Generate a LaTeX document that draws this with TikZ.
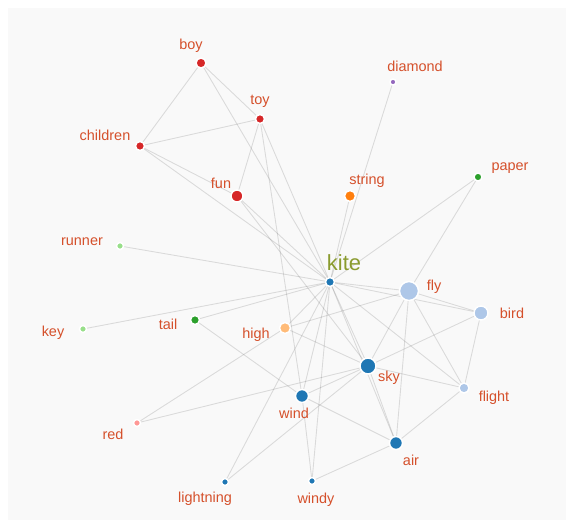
\documentclass[tikz,border=0pt]{standalone}
\usepackage{fontspec}
\setmainfont{Liberation Sans}
\usetikzlibrary{backgrounds}
\definecolor{panelGray}{HTML}{F9F9F9}
\definecolor{wordRed}{HTML}{D5502B}
\definecolor{kiteGreen}{HTML}{8A9B2F}
\definecolor{cRed}{HTML}{D62728}
\definecolor{cPurple}{HTML}{9467BD}
\definecolor{cOrange}{HTML}{FF7F0E}
\definecolor{cLtOrange}{HTML}{FFBB78}
\definecolor{cGreen}{HTML}{2CA02C}
\definecolor{cLtGreen}{HTML}{98DF8A}
\definecolor{cBlue}{HTML}{1F77B4}
\definecolor{cLtBlue}{HTML}{AEC7E8}
\definecolor{cPink}{HTML}{FF9896}
\newcommand\wordDot[5]{
        \node[dot,fill=#5,minimum size=#4bp] (#1) at (#2,#3) {};
}
\newcommand\link[2]{
        \draw[link] (#1) -- (#2);
}

\begin{document}
\begin{tikzpicture}[x=1bp,y=-1bp,
    dot/.style={circle,draw=white,line width=1.5bp,inner sep=0pt,outer sep=0pt},
    word/.style={text=wordRed,font=\fontsize{14.5}{16}\selectfont,inner sep=0pt},
    link/.style={draw=black,opacity=0.12,line width=0.9bp}]

    \useasboundingbox (0,0) rectangle (573,522);

    %draws word dots:
    \wordDot{boy}{201}{63}{10}{cRed}
    \wordDot{toy}{260}{119}{9}{cRed}
    \wordDot{children}{140}{146}{9}{cRed}
    \wordDot{fun}{237}{196}{12}{cRed}
    \wordDot{diamond}{393}{82}{6}{cPurple}
    \wordDot{string}{350}{196}{11}{cOrange}
    \wordDot{paper}{478}{177}{8}{cGreen}
    \wordDot{runner}{120}{246}{7}{cLtGreen}
    \wordDot{kite}{330}{282}{9}{cBlue}
    \wordDot{fly}{409}{291}{19}{cLtBlue}
    \wordDot{bird}{481}{313}{14}{cLtBlue}
    \wordDot{tail}{195}{320}{9}{cGreen}
    \wordDot{key}{83}{329}{7}{cLtGreen}
    \wordDot{high}{285}{328}{11}{cLtOrange}
    \wordDot{sky}{368}{366}{16}{cBlue}
    \wordDot{flight}{464}{388}{10}{cLtBlue}
    \wordDot{wind}{302}{396}{13}{cBlue}
    \wordDot{red}{137}{423}{7}{cPink}
    \wordDot{air}{396}{443}{13}{cBlue}
    \wordDot{lightning}{225}{482}{7}{cBlue}
    \wordDot{windy}{312}{481}{7}{cBlue}

    %draws word labels:
    \node[word] (boyLbl) at (191,46) {boy};
    \node[word] (toyLbl) at (260,101) {toy};
    \node[word] (childrenLbl) at (105,135) {children};
    \node[word] (funLbl) at (221,183) {fun};
    \node[word] (diamondLbl) at (415,66) {diamond};
    \node[word] (stringLbl) at (367,181) {string};
    \node[word] (paperLbl) at (510,168) {paper};
    \node[word] (runnerLbl) at (82,242) {runner};
    \node[word,text=kiteGreen,font=\fontsize{22}{24}\selectfont] (kiteLbl) at (344,263) {kite};
    \node[word] (flyLbl) at (434,287) {fly};
    \node[word] (birdLbl) at (512,313) {bird};
    \node[word] (tailLbl) at (168,324) {tail};
    \node[word] (keyLbl) at (53,333) {key};
    \node[word] (highLbl) at (256,335) {high};
    \node[word] (skyLbl) at (389,378) {sky};
    \node[word] (flightLbl) at (494,398) {flight};
    \node[word] (windLbl) at (294,413) {wind};
    \node[word] (redLbl) at (113,434) {red};
    \node[word] (airLbl) at (411,460) {air};
    \node[word] (lightningLbl) at (205,499) {lightning};
    \node[word] (windyLbl) at (316,500) {windy};

    %draws panel and links behind the dots:
    \begin{scope}[on background layer]
        \fill[panelGray] (8,8) rectangle (566,520);

        \foreach \w in {boy,toy,children,fun,string,diamond,paper,runner,key,
                        tail,high,fly,bird,sky,flight,wind,air,lightning,windy}
            {\link{kite}{\w}}

        \link{boy}{toy}
        \link{boy}{children}
        \link{toy}{children}
        \link{toy}{fun}
        \link{toy}{wind}
        \link{children}{fun}
        \link{fun}{sky}
        \link{paper}{fly}
        \link{tail}{wind}
        \link{high}{fly}
        \link{high}{sky}
        \link{high}{red}
        \link{red}{sky}
        \link{fly}{bird}
        \link{fly}{flight}
        \link{fly}{sky}
        \link{fly}{air}
        \link{bird}{flight}
        \link{bird}{sky}
        \link{sky}{air}
        \link{sky}{wind}
        \link{sky}{flight}
        \link{sky}{lightning}
        \link{flight}{air}
        \link{air}{wind}
        \link{air}{windy}
        \link{wind}{windy}
    \end{scope}

\end{tikzpicture}
\end{document}
